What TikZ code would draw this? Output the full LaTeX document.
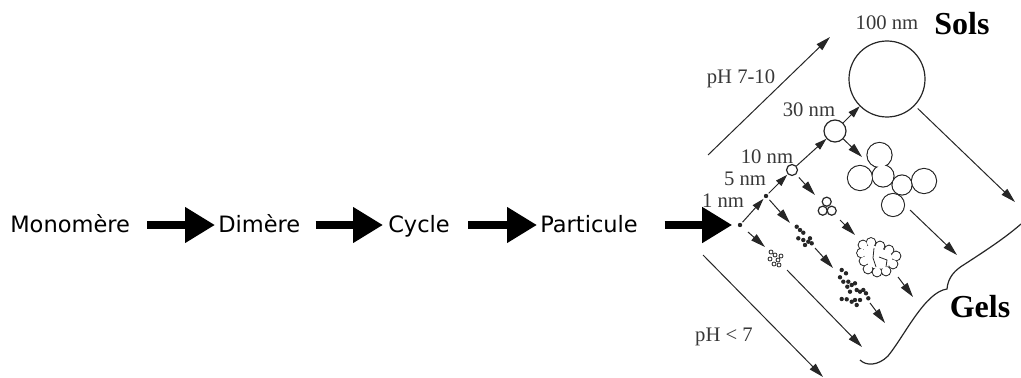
\documentclass[tikz,border=0pt]{standalone}
\usepackage{fontspec}
\setmainfont{Liberation Serif}[BoldFont={Liberation Serif Bold}]
\newfontfamily\labelsans{DejaVu Sans}
\usetikzlibrary{arrows.meta}

\begin{document}
\begin{tikzpicture}[x=0.75pt,y=-0.75pt,
  word/.style={font=\labelsans\fontsize{16.9pt}{20pt}\selectfont, anchor=base west, inner sep=0pt},
  fat/.style={line width=6pt, -{Triangle[length=22.5pt,width=25.5pt]}},
  nm/.style={font=\fontsize{15.5pt}{18pt}\selectfont, text=black!78, anchor=base, inner sep=0pt},
  phase/.style={font=\fontsize{24pt}{28pt}\selectfont\bfseries, anchor=base, inner sep=0pt},
  ln/.style={draw=black!85, line width=0.75pt},
  tarr/.style={ln, -{Triangle[length=11pt,width=6pt]}},
  sarr/.style={ln, -{Triangle[length=9pt,width=5.5pt]}},
  ring/.style={circle, draw=black!85, line width=0.9pt, inner sep=0pt, fill=white},
  dot/.style={circle, fill=black!85, inner sep=0pt, minimum size=3.3pt},
  bead/.style={fill=black!85},
]
\useasboundingbox (0,0) rectangle (1021,378);

% ---- reaction sequence ----
\node[word] (mono) at (10,232) {Monomère};
\node[word] (dim)  at (218,232) {Dimère};
\node[word] (cyc)  at (388,232) {Cycle};
\node[word] (part) at (540,232) {Particule};

% ---- particle growth chain ----
\node[dot] (d1) at (740,225) {};
\node[dot] (d5) at (766,196) {};
\node[ring, minimum size=8.25pt] (c10) at (792,170) {};
\node[ring, minimum size=16.5pt] (c30) at (835,131) {};
\node[ring, minimum size=57pt] (big) at (887,79) {};

\draw[fat, shorten <=12.75pt, shorten >=2.25pt] ([yshift=5.25pt]mono.base east) -- ([yshift=5.25pt]dim.base west);
\draw[fat, shorten <=11.25pt, shorten >=3.75pt] ([yshift=5.25pt]dim.base east) -- ([yshift=5.25pt]cyc.base west);
\draw[fat, shorten <=13.5pt, shorten >=2.25pt] ([yshift=5.25pt]cyc.base east) -- ([yshift=5.25pt]part.base west);
\draw[fat, shorten <=20pt, shorten >=4pt] ([yshift=5.25pt]part.base east) -- (d1);

\draw[sarr, shorten <=1pt, shorten >=1pt] (d1) -- (d5);
\draw[sarr, shorten <=1pt, shorten >=0.5pt] (d5) -- (c10);
\draw[sarr] (c10) -- (c30);
\draw[sarr] (c30) -- (big);

% ---- size labels ----
\node[nm] (t100) at (887,30) {100 nm};
\node[nm] (t30) at (809,117) {30 nm};
\node[nm] (t10) at (767,163) {10 nm};
\node[nm] (t5) at (745,185) {5 nm};
\node[nm] (t1) at (723,207) {1 nm};
\node[nm] (tph1) at (741,84) {pH 7-10};
\node[nm] (tph2) at (724,341) {pH < 7};
\node[phase] (sols) at (962,35) {Sols};
\node[phase] (gels) at (980,317) {Gels};

% ---- arrow end points ----
\coordinate (a1) at (765,247);
\coordinate (a5) at (790,223);
\coordinate (a10) at (815,195);
\coordinate (a30) at (862,157);
\coordinate (abig) at (1015,202);
\coordinate (k1s) at (815,248);  \coordinate (k1e) at (833,268);
\coordinate (k2s) at (870,303);  \coordinate (k2e) at (885,323);
\coordinate (trs) at (840,220);  \coordinate (tre) at (855,235);
\coordinate (ops) at (898,277);  \coordinate (ope) at (913,297);
\coordinate (fls) at (910,210);  \coordinate (fle) at (957,255);
\coordinate (scs) at (787,270);  \coordinate (sce) at (862,347);
\coordinate (pls) at (703,255);  \coordinate (ple) at (823,377);
\coordinate (phs) at (708,155);  \coordinate (phe) at (830,37);

\draw[tarr, shorten <=6pt] (d1) -- (a1);
\draw[tarr, shorten <=2pt] (d5) -- (a5);
\draw[tarr, shorten <=3pt] (c10) -- (a10);
\draw[tarr] (c30) -- (a30);
\draw[tarr, shorten <=3pt] (big) -- (abig);
\draw[tarr] (k1s) -- (k1e);
\draw[tarr] (k2s) -- (k2e);
\draw[tarr] (trs) -- (tre);
\draw[tarr] (ops) -- (ope);
\draw[tarr] (fls) -- (fle);
\draw[tarr] (scs) -- (sce);
\draw[tarr] (pls) -- (ple);
\draw[tarr] (phs) -- (phe);

% ---- branched aggregate of large spheres ----
\foreach \x/\y/\r in {879.5/155/9.4, 860/178/9.4, 883/176/8.25, 902/185/7.5, 924/181/9.4, 893/205/8.6}
  \draw[draw=black!85, line width=0.9pt] (\x,\y) circle[radius=\r pt];
\foreach \x/\y/\r in {879.5/155/9.4, 860/178/9.4, 883/176/8.25, 902/185/7.5, 924/181/9.4, 893/205/8.6}
  \fill[white] (\x,\y) circle[radius=\r pt-0.45pt];

% ---- three small spheres ----
\foreach \x/\y in {826.7/201.7, 822.7/210.7, 831.7/210.7}
  \draw[ring] (\x,\y) circle[radius=3.4pt];

% ---- open cluster of small spheres ----
\foreach \x/\y in {863/245, 871/242.5, 861.5/253, 864/261, 868/269, 877/272, 886/271, 893/264, 896/256, 889/250, 880/246}
  \draw[draw=black!85, line width=0.8pt] (\x,\y) circle[radius=3.6pt];
\fill[white] (864,247) -- (872,245) -- (880,248) -- (889,252) -- (893,257) -- (891,264) -- (885,268) -- (877,269) -- (869,266) -- (865,260) -- (864,253) -- cycle;
\foreach \x/\y in {863/245, 871/242.5, 861.5/253, 864/261, 868/269, 877/272, 886/271, 893/264, 896/256, 889/250, 880/246}
  \fill[white] (\x,\y) circle[radius=3.2pt];
\draw[ln, line width=0.6pt] (874,248) -- (873,258) -- (876,267);
\draw[ln, line width=0.6pt] (879,257) -- (887,260) -- (886,267);

% ---- dense clusters of small particles ----
\foreach \x/\y in {796.7/226.7, 800/230, 803.3/232.7, 798.3/238.3, 803.3/240, 808.3/241.7, 811.7/243.3, 810/238.3, 805/245}
  \fill[bead] (\x,\y) circle[radius=1.65pt];
\foreach \x/\y in {841.7/270, 846/273.3, 840/277.3, 843.3/281.7, 848.3/281.7, 847.3/286.7, 851.7/285, 855/283.3, 856.7/290, 850/291.7, 860/291.7, 863.3/290, 866/293.3, 868.3/298.3, 860/300, 855/300, 851.7/301.7, 846.7/299.3, 841.7/299, 856.7/305}
  \fill[bead] (\x,\y) circle[radius=1.65pt];

% ---- small open aggregate ----
\foreach \x/\y in {771/252, 775/255, 770/259, 778/260, 774/264, 781/256, 779/265}
  \draw[draw=black!85, line width=0.6pt] (\x,\y) circle[radius=1.5pt];

% ---- brace gathering the gels ----
\draw[ln, line width=0.9pt] (860,360) .. controls (866,366) and (878,366) .. (888,356)
  .. controls (905,335) and (925,292) .. (947,289)
  .. controls (948,277) and (955,270) .. (965,264)
  .. controls (985,251) and (1005,238) .. (1021,224);
\end{tikzpicture}
\end{document}
